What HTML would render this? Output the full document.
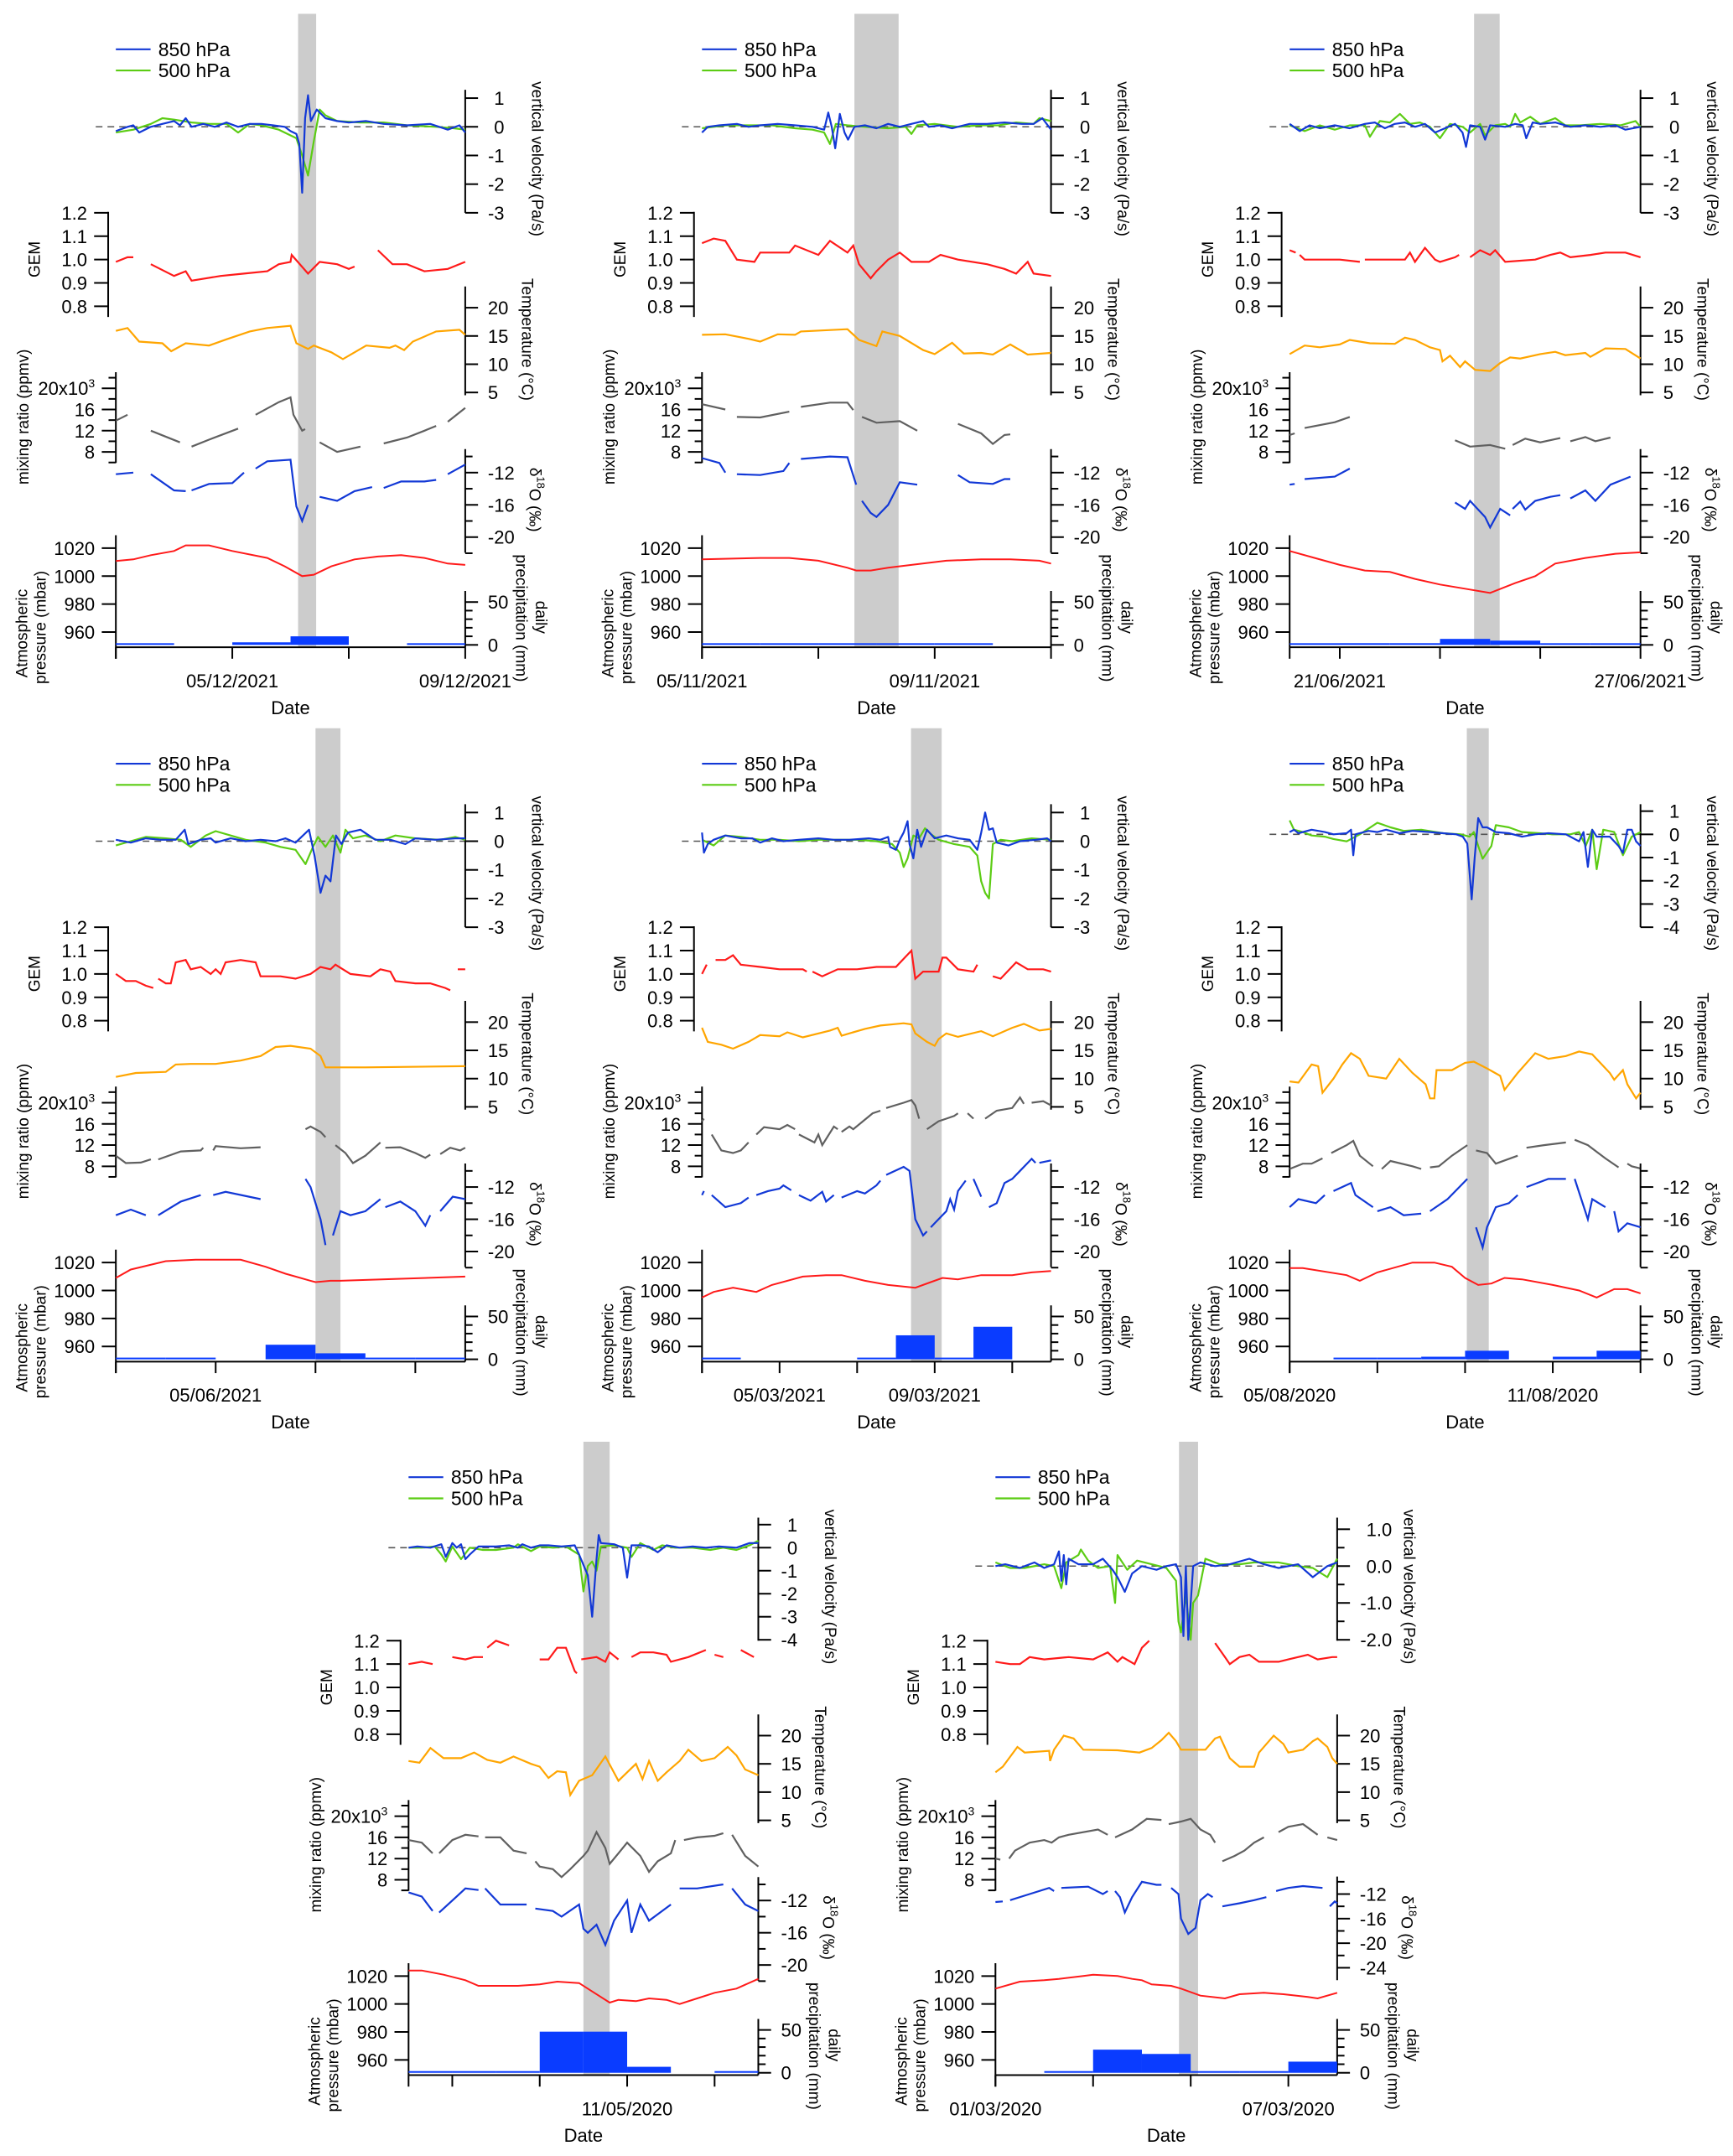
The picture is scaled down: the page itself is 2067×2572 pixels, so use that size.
<!DOCTYPE html>
<html><head><meta charset="utf-8"><title>Event panels</title>
<style>
html,body{margin:0;padding:0;background:#fff;}
svg{display:block;font-family:"Liberation Sans",Arial,sans-serif;}
</style></head>
<body>
<svg id="fig" xmlns="http://www.w3.org/2000/svg" width="2067" height="2572" viewBox="0 0 2067 2572"></svg>
<script>
// ---------- DATA (time in days from axis start, value) ----------
const p1_vv850=[[0,-0.15],[0.2,0],[0.3,0.05],[0.4,-0.2],[0.6,0],[0.8,0.1],[1.0,0.2],[1.1,0.05],[1.2,0.3],[1.3,0.0],[1.5,0.1],[1.7,0.0],[1.9,0.15],[2.1,0.0],[2.3,0.1],[2.5,0.1],[2.7,0.05],[2.9,0.0],[3.0,-0.15],[3.1,-0.25],[3.15,-0.6],[3.2,-2.3],[3.25,0.3],[3.3,1.1],[3.35,0.2],[3.45,0.6],[3.6,0.3],[3.8,0.2],[4.0,0.15],[4.3,0.2],[4.6,0.1],[5.0,0.05],[5.4,0.1],[5.7,-0.1],[5.9,0.05],[6.0,-0.2]];
const p1_vv500=[[0,-0.2],[0.3,-0.1],[0.6,0.1],[0.8,0.3],[1.0,0.25],[1.3,0.15],[1.6,0.1],[1.9,0.1],[2.1,-0.2],[2.3,0.1],[2.5,0.05],[2.8,-0.1],[3.0,-0.3],[3.1,-0.4],[3.2,-1.0],[3.3,-1.7],[3.4,-0.5],[3.5,0.6],[3.6,0.4],[3.8,0.2],[4.2,0.15],[4.6,0.15],[5.0,0.05],[5.5,0.0],[5.8,-0.05],[6.0,-0.1]];
const p1_gem=[[0,0.99],[0.2,1.01],[0.3,1.01],null,[0.6,0.98],[1.0,0.93],[1.2,0.95],[1.3,0.91],[1.8,0.93],[2.2,0.94],[2.6,0.95],[2.8,0.98],[3.0,0.99],[3.02,1.02],[3.3,0.94],[3.5,0.99],[3.8,0.98],[4.0,0.96],[4.1,0.97],null,[4.5,1.04],[4.75,0.98],[5.0,0.98],[5.3,0.95],[5.7,0.96],[6.0,0.99]];
const p1_temp=[[0,15.9],[0.2,16.4],[0.4,14],[0.8,13.7],[0.95,12.3],[1.2,13.7],[1.6,13.3],[1.9,14.4],[2.3,15.8],[2.6,16.4],[3.0,16.8],[3.1,13.7],[3.3,12.7],[3.4,13.3],[3.7,12.1],[3.9,10.9],[4.1,12.1],[4.3,13.3],[4.7,12.9],[4.8,13.3],[4.95,12.5],[5.1,14],[5.5,15.8],[5.9,16.1],[6.0,15.2]];
const p1_mix=[[0,13.9],[0.2,15],null,[0.6,12],[1.1,9.8],null,[1.3,9],[1.6,10.3],[2.1,12.4],null,[2.4,15],[2.8,17.4],[3.0,18.3],[3.05,15],[3.2,12],[3.25,12.3],null,[3.5,9.8],[3.8,8],[4.2,9],null,[4.6,9.6],[5.0,10.7],[5.3,12],[5.5,12.9],null,[5.7,13.7],[6.0,16.3]];
const p1_d18o=[[0,-12.2],[0.3,-12],null,[0.6,-12.2],[1.0,-14.2],[1.2,-14.3],null,[1.3,-14.2],[1.6,-13.4],[2.0,-13.3],[2.2,-12],null,[2.4,-11.5],[2.6,-10.6],[3.0,-10.4],[3.1,-16.2],[3.2,-18],[3.3,-16],null,[3.5,-15],[3.8,-15.5],[4.1,-14.3],[4.4,-13.8],null,[4.6,-13.9],[4.9,-13.1],[5.3,-13.1],[5.5,-12.9],null,[5.7,-12.2],[6.0,-11]];
const p1_press=[[0,1010.8],[0.3,1012],[0.6,1015],[1.0,1018],[1.2,1022],[1.6,1022],[2.0,1018],[2.6,1013],[2.9,1007],[3.2,1000],[3.4,1001],[3.7,1007],[4.1,1012],[4.5,1014],[4.9,1015],[5.3,1013],[5.7,1009],[6.0,1008]];
const p1_precip=[1,null,3,10,null,1];

const p2_vv850=[[0,-0.2],[0.1,0],[0.3,0.05],[0.6,0.1],[0.8,0],[1.0,0.05],[1.3,0.1],[1.6,0.05],[1.9,0.0],[2.1,-0.1],[2.17,0.5],[2.23,0],[2.29,-0.75],[2.37,0.45],[2.45,-0.2],[2.51,-0.45],[2.62,0],[2.8,0.05],[3.0,-0.05],[3.2,0.1],[3.4,0],[3.6,0.1],[3.8,0.2],[3.9,0],[4.1,0.05],[4.3,-0.05],[4.6,0.1],[4.9,0.1],[5.2,0.15],[5.5,0.1],[5.7,0.1],[5.85,0.3],[6.0,-0.1]];
const p2_vv500=[[0,-0.05],[0.4,0.05],[0.8,0.05],[1.2,0.05],[1.6,-0.05],[1.9,-0.1],[2.1,-0.2],[2.2,-0.6],[2.3,0.1],[2.5,0.05],[2.8,0],[3.2,-0.05],[3.5,0],[3.6,-0.25],[3.7,0.05],[4.0,0.1],[4.4,0.0],[4.8,0.05],[5.1,0.05],[5.4,0.15],[5.7,0.1],[5.8,0.3],[6,0.2]];
const p2_gem=[[0,1.07],[0.2,1.09],[0.4,1.08],[0.6,1.0],[0.9,0.99],[1.0,1.03],[1.5,1.03],[1.6,1.06],[2.0,1.02],[2.2,1.08],[2.5,1.03],[2.6,1.06],[2.7,0.98],[2.9,0.92],[3.0,0.95],[3.2,1.0],[3.4,1.03],[3.6,0.99],[3.9,0.99],[4.1,1.02],[4.4,1.0],[4.9,0.98],[5.2,0.96],[5.4,0.94],[5.6,0.99],[5.7,0.94],[6.0,0.93]];
const p2_temp=[[0,15.2],[0.4,15.3],[0.8,14.5],[1.0,14.0],[1.3,15.3],[1.6,15.2],[1.7,15.8],[2.5,16.2],[2.7,14.3],[3.0,13.2],[3.1,15.8],[3.4,15.0],[3.8,12.5],[4.0,11.8],[4.3,13.8],[4.5,11.9],[4.8,12.0],[5.0,11.7],[5.3,13.5],[5.6,11.7],[6.0,12.0]];
const p2_mix=[[0,17],[0.4,16],null,[0.6,14.6],[1.0,14.5],[1.5,15.6],null,[1.7,16.5],[2.2,17.3],[2.5,17.3],[2.6,15.9],null,[2.75,14.6],[3.0,13.5],[3.4,13.8],[3.7,12.0],null,[4.4,13.3],[4.8,11.5],[5.0,9.5],[5.2,11.2],[5.3,11.3]];
const p2_d18o=[[0,-10.2],[0.3,-10.8],[0.4,-12.0],null,[0.6,-12.2],[1.0,-12.3],[1.4,-11.8],[1.5,-10.8],null,[1.7,-10.3],[2.2,-10.0],[2.5,-10.1],[2.65,-13.5],null,[2.75,-15.5],[2.9,-17],[3.0,-17.5],[3.2,-16],[3.4,-13.2],[3.7,-13.5],null,[4.4,-12.3],[4.6,-13.2],[5.0,-13.4],[5.2,-12.8],[5.3,-12.8]];
const p2_press=[[0,1012],[1.0,1013],[1.5,1013],[2.0,1011],[2.5,1006],[2.65,1004],[2.9,1004],[3.2,1006],[3.6,1008],[4.2,1011],[4.8,1012],[5.3,1012],[5.8,1011],[6.0,1009]];
const p2_precip=[1,1,1,1,1,null];

const p3_vv850=[[0,0.1],[0.2,-0.15],[0.4,0.05],[0.6,-0.05],[0.9,0.05],[1.2,-0.05],[1.5,0.1],[1.7,0.15],[1.9,-0.05],[2.1,0.1],[2.3,0.15],[2.5,0],[2.7,0.1],[2.9,-0.2],[3.1,-0.05],[3.3,0.1],[3.45,-0.2],[3.52,-0.7],[3.6,0.05],[3.8,0],[3.9,-0.45],[4.0,0.05],[4.3,0],[4.5,0.1],[4.65,0.05],[4.72,-0.4],[4.85,0.15],[5.0,0.1],[5.3,0.15],[5.6,0],[5.9,0.05],[6.2,0],[6.5,0.05],[6.7,-0.1],[7,0]];
const p3_vv500=[[0,0.05],[0.3,-0.15],[0.6,0.05],[0.9,-0.1],[1.2,0.05],[1.5,0.05],[1.6,-0.35],[1.8,0.2],[2.0,0.15],[2.2,0.45],[2.4,0.1],[2.6,0.15],[2.8,0],[3.0,-0.4],[3.2,0.1],[3.45,0],[3.6,-0.2],[3.8,0.1],[3.9,-0.3],[4.1,0.05],[4.3,0.1],[4.4,0.0],[4.5,0.45],[4.6,0.15],[4.8,0.35],[5.0,0.1],[5.3,0.3],[5.5,0.05],[5.8,0.05],[6.2,0.1],[6.6,0.05],[6.9,0.2],[7,0]];
const p3_gem=[[0,1.04],[0.12,1.03],null,[0.2,1.02],[0.3,1.0],[1.0,1.0],[1.4,0.99],null,[1.5,1.0],[2.3,1.0],[2.4,1.03],[2.5,0.99],[2.7,1.05],[2.9,1.0],[3.0,0.99],[3.3,1.01],[3.38,1.02],null,[3.6,1.01],[3.8,1.04],[4.0,1.02],[4.1,1.04],[4.3,0.99],[4.9,1.0],[5.2,1.02],[5.4,1.03],[5.6,1.01],[6.0,1.02],[6.3,1.03],[6.7,1.03],[7,1.01]];
const p3_temp=[[0,11.8],[0.3,13.3],[0.6,13.0],[1.0,13.5],[1.2,14.3],[1.6,13.7],[2.1,13.6],[2.3,14.7],[2.5,14.3],[2.8,13.0],[3.0,12.5],[3.05,10.5],[3.2,11.5],[3.4,9.5],[3.5,10.5],[3.7,9.0],[4.0,8.8],[4.2,10.2],[4.4,11.2],[4.6,11.0],[5.0,11.8],[5.3,12.2],[5.5,11.6],[5.9,12.0],[6.0,11.3],[6.3,12.8],[6.7,12.7],[7,11.0]];
const p3_mix=[[0,11.2],[0.1,11.5],null,[0.3,12.5],[0.9,13.6],[1.2,14.6],null,[3.3,10.2],[3.6,9.0],[4.0,9.3],[4.3,8.6],null,[4.45,9.3],[4.7,10.5],[5.0,9.8],[5.4,10.6],null,[5.6,10.0],[5.9,10.8],[6.1,10.0],[6.4,10.7]];
const p3_d18o=[[0,-13.5],[0.1,-13.4],null,[0.3,-12.8],[0.9,-12.5],[1.2,-11.5],null,[3.3,-15.7],[3.5,-16.5],[3.6,-15.5],[3.9,-17.5],[4.0,-18.8],[4.2,-16.5],[4.4,-17.3],null,[4.45,-16.5],[4.6,-15.6],[4.7,-16.6],[4.9,-15.5],[5.2,-15],[5.4,-14.8],null,[5.6,-15.2],[5.9,-14.2],[6.1,-15.5],[6.4,-13.5],[6.8,-12.5]];
const p3_press=[[0,1018],[0.5,1013],[1.0,1008],[1.5,1004],[2.0,1003],[2.5,998],[3.0,994],[3.5,991],[4.0,988],[4.5,995],[4.9,1000],[5.3,1009],[5.9,1013],[6.5,1016],[7,1017]];
const p3_precip=[1,2,2,7,5,1,1];

const p4_vv850=[[0,0.05],[0.3,-0.05],[0.6,0.1],[0.9,0.05],[1.2,0.05],[1.38,0.4],[1.45,-0.1],[1.7,0.05],[1.9,0.1],[2.0,-0.05],[2.3,0.1],[2.6,0],[2.9,0.05],[3.2,0],[3.4,0.1],[3.6,-0.05],[3.87,0.4],[3.98,-0.5],[4.1,-1.8],[4.2,-1.2],[4.3,-1.4],[4.41,0.2],[4.52,-0.1],[4.65,0.3],[4.9,0.4],[5.2,0.05],[5.5,0.05],[5.8,-0.1],[6.0,0.1],[6.4,0.05],[6.8,0.1],[7,0.1]];
const p4_vv500=[[0,-0.15],[0.3,0],[0.6,0.15],[1.0,0.1],[1.3,0.05],[1.5,-0.2],[1.8,0.2],[2.0,0.35],[2.3,0.2],[2.6,0.05],[3.0,-0.05],[3.3,-0.2],[3.6,-0.3],[3.8,-0.8],[3.95,-0.2],[4.05,0.15],[4.2,-0.2],[4.35,0.2],[4.5,-0.4],[4.6,0.4],[4.75,0.1],[5.0,0.2],[5.3,0.0],[5.6,0.2],[6.0,0.1],[6.5,0.05],[6.8,0.15],[7,0.05]];
const p4_gem=[[0,1.0],[0.2,0.97],[0.4,0.97],[0.6,0.95],[0.75,0.94],null,[0.85,0.98],[1.0,0.96],[1.1,0.96],[1.2,1.05],[1.4,1.06],[1.5,1.02],[1.7,1.03],[1.9,1.0],[2.0,1.02],[2.1,1.0],[2.2,1.05],[2.5,1.06],[2.8,1.05],[2.9,0.99],[3.3,0.99],[3.6,0.98],[3.9,1.0],[4.1,1.03],[4.3,1.02],[4.4,1.04],[4.7,1.0],[5.1,0.99],[5.3,1.02],[5.5,1.01],[5.6,0.97],[6.0,0.96],[6.3,0.96],[6.6,0.94],[6.7,0.93],null,[6.85,1.02],[7,1.02]];
const p4_temp=[[0,10.3],[0.4,11.0],[1.0,11.2],[1.2,12.5],[1.5,12.6],[2.0,12.6],[2.5,13.2],[2.9,14.0],[3.2,15.6],[3.5,15.8],[3.9,15.3],[4.1,14.0],[4.2,12.0],[5.0,12.0],[7,12.2]];
const p4_mix=[[0,10.0],[0.2,8.6],[0.5,8.7],[0.7,9.3],null,[0.85,9.3],[1.3,10.8],[1.7,11.0],[1.75,11.5],null,[1.95,11.0],[2.0,11.8],[2.5,11.4],[2.9,11.6],null,[3.8,15.0],[3.9,15.5],[4.1,14.5],[4.2,13.5],null,[4.4,12.0],[4.6,10.5],[4.75,8.6],[5.0,10.0],[5.3,12.5],null,[5.4,11.5],[5.7,11.6],[6.0,10.5],[6.2,9.6],[6.3,10.2],null,[6.5,10.3],[6.7,11.5],[6.9,11.0],[7,11.5]];
const p4_d18o=[[0,-15.5],[0.3,-14.8],[0.6,-15.5],null,[0.85,-15.5],[1.3,-13.8],[1.7,-13.0],null,[1.95,-13.0],[2.2,-12.6],[2.9,-13.5],null,[3.8,-11],[3.9,-12],[4.1,-16],[4.2,-19.2],null,[4.35,-18],[4.5,-15],[4.7,-15.5],[5.0,-15],[5.3,-13.5],null,[5.4,-14.5],[5.7,-13.8],[6.0,-15],[6.2,-16.8],[6.3,-15.5],null,[6.5,-15],[6.75,-13.2],[7,-13.5]];
const p4_press=[[0,1009],[0.3,1015],[1.0,1021],[1.6,1022],[2.2,1022],[2.5,1022],[3.0,1017],[3.4,1012],[3.9,1007],[4.0,1006],[4.3,1007],[4.5,1007],[7,1010]];
const p4_precip=[1.5,1,null,17,7,1,1];

const p5_vv850=[[0,0.3],[0.05,-0.4],[0.15,-0.1],[0.3,0.05],[0.6,0.2],[1.0,0.1],[1.3,0.1],[1.5,-0.05],[1.8,0.1],[2.1,0],[2.5,0.05],[3.0,0.1],[3.4,0.05],[3.8,0.05],[4.3,0.1],[4.6,0.05],[4.8,0.15],[4.85,-0.2],[5.0,-0.3],[5.1,0.05],[5.2,0.3],[5.3,0.7],[5.35,-0.1],[5.45,-0.6],[5.55,0.4],[5.65,-0.2],[5.8,0.4],[6.0,0.1],[6.3,0.2],[6.6,0.1],[6.9,0.05],[7.1,-0.3],[7.2,0.3],[7.3,1.0],[7.4,0.4],[7.5,0.45],[7.6,-0.05],[7.9,-0.15],[8.2,0],[8.6,0.05],[8.9,0.1],[9,0]];
const p5_vv500=[[0,0.05],[0.3,-0.15],[0.6,0.2],[1.0,0.15],[1.5,0.05],[2.0,0.05],[2.5,0],[3.0,0.05],[3.5,0.05],[4.0,0.05],[4.5,0.0],[4.9,-0.1],[5.1,-0.4],[5.2,-0.9],[5.3,-0.6],[5.45,0.2],[5.6,0.1],[5.75,0.45],[5.9,0.25],[6.1,0.05],[6.5,-0.1],[6.9,-0.2],[7.1,-0.5],[7.2,-1.4],[7.3,-1.8],[7.4,-2.0],[7.5,-0.1],[7.7,0.05],[8.0,0.0],[8.5,0.1],[9,0.05]];
const p5_gem=[[0,1.0],[0.12,1.04],null,[0.35,1.06],[0.6,1.06],[0.8,1.08],[1.0,1.04],[1.5,1.03],[2.0,1.02],[2.6,1.02],[2.7,1.01],null,[2.85,1.01],[3.1,0.99],[3.5,1.02],[4.0,1.02],[4.5,1.03],[5.0,1.03],[5.4,1.1],[5.5,0.98],[5.7,1.01],[6.1,1.01],[6.2,1.07],[6.3,1.07],[6.6,1.02],[7.0,1.01],[7.1,1.04],null,[7.5,0.99],[7.7,0.98],[8.1,1.05],[8.4,1.02],[8.8,1.02],[9,1.01]];
const p5_temp=[[0,19.0],[0.15,16.5],[0.5,16.0],[0.8,15.3],[1.2,16.5],[1.5,17.7],[2.0,17.5],[2.2,18.2],[2.6,17.3],[3.3,18.5],[3.5,19.0],[3.6,17.6],[4.2,18.8],[4.6,19.4],[5.2,19.8],[5.4,19.6],[5.5,18.0],[5.8,16.5],[6.0,15.8],[6.1,17.0],[6.3,18.0],[6.6,17.4],[7.2,18.4],[7.5,17.5],[8.0,19.0],[8.3,19.7],[8.7,18.5],[9,18.8]];
const p5_mix=[[0,16.5],[0.05,17],null,[0.25,14.0],[0.5,11.0],[0.8,10.5],[1.0,11.0],[1.2,12.5],null,[1.4,14.0],[1.6,15.4],[2.0,15.0],[2.2,15.8],[2.4,15.0],null,[2.5,14.0],[2.9,12.5],[3.0,14.0],[3.1,12.0],[3.4,15.5],[3.5,15.0],null,[3.6,14.5],[3.8,15.5],[3.9,15.0],[4.4,18.0],[4.6,18.5],null,[4.75,19.0],[5.2,20.0],[5.4,20.5],[5.5,19.5],[5.6,17.0],null,[5.8,15.0],[6.1,16.5],[6.3,17.0],[6.5,17.5],[6.6,18.0],null,[6.85,18.0],[7.0,17.0],null,[7.3,17.0],[7.6,18.5],[8.0,19.0],[8.2,21.0],[8.3,19.8],null,[8.5,20.0],[8.8,20.3],[9,19.5]];
const p5_d18o=[[0,-13],[0.05,-12.5],null,[0.25,-13],[0.6,-14.5],[1.0,-14.0],[1.2,-13.3],null,[1.4,-13],[1.7,-12.5],[2.0,-12.2],[2.1,-11.8],[2.3,-12.4],null,[2.5,-13],[2.8,-13.7],[3.1,-12.6],[3.2,-13.8],[3.4,-13.0],null,[3.6,-13.3],[4.0,-12.5],[4.2,-12.8],[4.5,-11.8],[4.6,-11.2],null,[4.75,-10.5],[5.2,-9.5],[5.35,-10.0],[5.5,-16],[5.7,-18],[5.8,-17.5],null,[5.9,-17],[6.0,-16.5],[6.3,-15],[6.4,-13.5],[6.5,-14.8],[6.6,-12.5],[6.8,-11.2],null,[7.0,-11],[7.2,-13.2],null,[7.4,-14.5],[7.6,-14],[7.8,-11.5],[8.0,-11],[8.2,-10],[8.5,-8.5],[8.6,-9],null,[8.7,-9],[9,-8.7]];
const p5_press=[[0,995],[0.3,999],[0.8,1002],[1.4,999],[1.8,1004],[2.6,1010],[3.2,1011],[3.6,1011],[4.2,1007],[4.8,1004],[5.5,1002],[5.9,1006],[6.2,1009],[6.6,1008],[7.2,1011],[8.0,1011],[8.5,1013],[9,1014]];
const p5_precip=[1,null,null,null,1,28,1,38,null];

const p6_vv850=[[0,0.1],[0.1,0.2],[0.2,0.05],[0.5,0.2],[0.8,0.1],[1.0,0.0],[1.3,0.05],[1.4,0.2],[1.45,-0.9],[1.5,0],[1.8,0.15],[2.0,0.1],[2.2,0.2],[2.5,0.05],[2.8,0.15],[3.2,0.1],[3.5,0.05],[3.8,0.0],[3.95,-0.1],[4.05,-0.4],[4.15,-2.8],[4.22,-1.0],[4.3,0.7],[4.4,0.3],[4.5,0.3],[4.7,0.1],[5.0,0.05],[5.3,-0.1],[5.6,0.0],[5.9,0.05],[6.3,0.0],[6.6,-0.3],[6.7,0.1],[6.8,-1.4],[6.9,0.2],[7.0,-0.1],[7.3,-0.1],[7.5,-0.5],[7.6,-0.8],[7.7,0.2],[7.8,0.2],[7.9,-0.3],[8,-0.5]];
const p6_vv500=[[0,0.6],[0.1,0.2],[0.3,0.1],[0.5,-0.05],[0.8,-0.1],[1.0,-0.2],[1.3,-0.3],[1.6,0.0],[2.0,0.5],[2.3,0.3],[2.6,0.15],[3.0,0.2],[3.5,0.05],[3.9,0.0],[4.1,-0.1],[4.2,0.1],[4.3,-0.5],[4.4,-1.05],[4.6,-0.5],[4.7,0.4],[5.0,0.3],[5.3,0.1],[5.7,0.05],[6.0,0.0],[6.4,0.0],[6.6,0.1],[6.75,-0.5],[6.9,0.2],[7.0,-1.5],[7.15,0.2],[7.4,0.1],[7.6,-0.9],[7.8,-0.1],[8,0.1]];
const p6_gem=[];
const p6_temp=[[0,9.5],[0.2,9.3],[0.5,12.5],[0.65,12.2],[0.75,7.5],[1.0,10.0],[1.2,12.5],[1.4,14.5],[1.6,13.5],[1.8,10.5],[2.2,10.0],[2.5,13.5],[2.8,11.0],[3.1,9.0],[3.2,6.5],[3.3,6.5],[3.35,11.5],[3.7,11.5],[4.0,12.8],[4.2,13.0],[4.5,11.8],[4.8,10.5],[4.9,8.0],[5.2,11.0],[5.6,14.5],[5.9,13.5],[6.3,14.0],[6.6,14.8],[6.9,14.3],[7.3,11.0],[7.4,9.8],[7.6,11.5],[7.7,9.0],[7.9,6.5],[8,7.5]];
const p6_mix=[[0,7.5],[0.3,8.5],[0.5,8.5],[0.75,9.5],null,[0.95,10.5],[1.3,12.0],[1.45,12.8],[1.6,10.0],[1.9,8.0],null,[2.1,7.5],[2.3,9.0],[2.8,8.0],[3.0,7.5],null,[3.2,7.8],[3.4,8.0],[3.7,10.0],[4.05,12.0],null,[4.25,11.0],[4.5,10.5],[4.7,8.5],[5.2,10.0],null,[5.4,11.5],[5.8,12.0],[6.3,12.5],null,[6.5,13.0],[6.8,12.0],[7.2,9.5],[7.5,7.8],null,[7.7,8.5],[7.8,8.0],[8,7.6]];
const p6_d18o=[[0,-14.5],[0.2,-13.5],[0.6,-14.0],[0.8,-13],null,[1.0,-12.5],[1.4,-11.5],[1.5,-13],[1.9,-14.5],null,[2.0,-15],[2.3,-14.5],[2.6,-15.5],[3.0,-15.3],null,[3.2,-15],[3.6,-13.5],[4.05,-11],null,[4.25,-17],[4.4,-19.5],[4.5,-17],[4.7,-14.5],[5.0,-14],[5.2,-13],null,[5.4,-12],[5.9,-11],[6.3,-11],null,[6.5,-11],[6.8,-16],[6.9,-13.5],[7.2,-14.5],null,[7.4,-15],[7.5,-17.5],[7.7,-16.5],[8,-17]];
const p6_press=[[0,1016],[0.3,1016],[1.3,1011],[1.6,1007],[2.0,1013],[2.8,1020],[3.3,1020],[3.7,1017],[4.0,1009],[4.3,1004],[4.6,1005],[4.9,1009],[5.3,1008],[6.0,1004],[6.6,1000],[7.0,995],[7.4,1001],[7.7,1001],[8,998]];
const p6_precip=[null,1,1,3,10,null,3,10];

const p7_vv850=[[0,0],[0.2,0.05],[0.5,0],[0.75,0.15],[0.85,-0.4],[1.0,0.2],[1.1,0],[1.2,0.15],[1.3,-0.5],[1.4,-0.3],[1.6,0.05],[2.0,0.05],[2.3,0.1],[2.5,0.0],[2.6,0.15],[2.8,0.0],[3.0,0.1],[3.2,0.1],[3.5,0.05],[3.8,0.1],[3.9,-0.3],[4.1,-1.2],[4.2,-3.0],[4.3,-0.5],[4.35,0.55],[4.4,0.2],[4.7,0.15],[4.9,0.0],[5.0,-1.3],[5.1,0.1],[5.3,0.1],[5.5,0.05],[5.7,-0.2],[5.9,0.1],[6.2,0.0],[6.5,0.05],[6.8,0.0],[7.1,0.05],[7.5,0.0],[7.8,0.2],[8,0.2]];
const p7_vv500=[[0,0],[0.3,0],[0.6,0.05],[0.75,-0.3],[0.85,-0.6],[1.0,0.05],[1.2,-0.5],[1.4,0],[1.7,-0.1],[2.0,-0.1],[2.4,0],[2.5,0.15],[2.8,-0.15],[3.0,0.05],[3.3,0.0],[3.6,0.05],[3.9,-0.3],[4.0,-1.9],[4.1,-0.8],[4.2,-0.6],[4.3,-1.0],[4.4,0.05],[4.7,0.1],[5.0,0.0],[5.1,-0.4],[5.3,0.2],[5.6,-0.1],[5.8,0.1],[6.1,0.0],[6.5,0.0],[6.9,-0.1],[7.2,0.0],[7.5,-0.1],[7.8,0.1],[8,0.3]];
const p7_gem=[[0,1.1],[0.3,1.11],[0.55,1.1],null,[1.0,1.13],[1.3,1.12],[1.5,1.13],[1.7,1.13],null,[1.8,1.17],[2.0,1.2],[2.3,1.18],null,[3.0,1.12],[3.2,1.12],[3.4,1.17],[3.6,1.17],[3.8,1.07],[3.85,1.06],null,[3.95,1.12],[4.3,1.13],[4.5,1.11],[4.6,1.15],[4.8,1.12],null,[5.1,1.13],[5.3,1.15],[5.6,1.15],[5.9,1.14],[6.0,1.11],[6.4,1.13],[6.8,1.16],null,[7.0,1.14],[7.2,1.13],null,[7.6,1.16],[7.9,1.13]];
const p7_temp=[[0,15.5],[0.25,15.2],[0.5,17.8],[0.8,16],[1.2,16],[1.5,17],[1.8,15.7],[2.1,15.2],[2.4,16.3],[2.8,15.0],[3.0,14.5],[3.2,12.5],[3.4,13.7],[3.6,13.5],[3.7,9.5],[3.9,12.0],[4.2,13.0],[4.5,16.3],[4.8,12.0],[5.0,13.5],[5.2,15.0],[5.35,12.3],[5.5,15.5],[5.7,12.0],[5.9,13.5],[6.2,15.5],[6.4,17.5],[6.7,15.5],[7.0,16.0],[7.3,18.0],[7.5,16.5],[7.7,14.0],[8,13.0]];
const p7_mix=[[0,15.5],[0.3,15],[0.55,13],null,[0.7,13],[1.0,15.5],[1.3,16.5],[1.6,16.2],null,[1.75,16],[2.1,16],[2.4,13.5],[2.7,13.0],null,[2.9,11.5],[3.0,10.5],[3.3,10.0],[3.5,8.5],[3.7,10.0],[4.0,12.5],[4.1,13.5],[4.3,17.0],[4.5,14.0],[4.6,11.0],[4.8,13.0],[5.0,15.0],[5.3,12.5],[5.5,9.5],[5.7,11.5],[6.0,13.0],[6.1,15.5],null,[6.3,15.5],[6.6,16],[7.0,16.3],[7.2,16.8],null,[7.4,16.5],[7.7,12.5],[8,10.5]];
const p7_d18o=[[0,-11.0],[0.3,-11.5],[0.55,-13.3],null,[0.7,-13.5],[1.1,-11.5],[1.3,-10.5],[1.6,-10.7],null,[1.75,-10.5],[2.1,-12.5],[2.7,-12.5],null,[2.9,-13],[3.3,-13.3],[3.5,-14],[3.9,-12.5],[4.0,-15.5],[4.1,-16],[4.3,-15],[4.5,-17.5],[4.7,-14.5],[5.0,-12],[5.1,-16],[5.3,-12.5],[5.5,-14.5],[6.0,-12.5],null,[6.2,-10.5],[6.6,-10.5],[7.2,-10],null,[7.4,-10.5],[7.7,-12.5],[8,-13.3]];
const p7_press=[[0,1024],[0.3,1024],[0.8,1021],[1.3,1017],[1.6,1013],[2.5,1013],[3.0,1014],[3.4,1016],[3.9,1015],[4.2,1009],[4.6,1001],[4.8,1003],[5.2,1002],[5.5,1004],[5.9,1003],[6.2,1000],[6.6,1004],[7.0,1008],[7.5,1011],[8,1018]];
const p7_precip=[1,1.5,1,48,48,7,null,1];

const p8_vv850=[[0,0],[0.2,0.05],[0.5,-0.05],[0.8,0.1],[1.0,-0.05],[1.2,0.05],[1.3,0.4],[1.35,-0.4],[1.4,0.3],[1.45,-0.5],[1.5,0.2],[1.7,0.05],[2.0,0.05],[2.2,0.2],[2.4,-0.1],[2.5,-0.3],[2.65,-0.7],[2.8,-0.2],[3.0,0.0],[3.3,-0.1],[3.5,0.0],[3.7,0.05],[3.8,-0.3],[3.85,-1.9],[3.9,0],[3.95,-2.0],[4.05,0],[4.2,0.1],[4.5,0.0],[4.8,0.05],[5.2,0.2],[5.5,0.05],[5.8,-0.05],[6.2,0.05],[6.5,-0.3],[6.8,0.0],[7,0.1]];
const p8_vv500=[[0,0.1],[0.3,-0.05],[0.6,-0.05],[1.0,0.05],[1.2,0],[1.35,-0.6],[1.45,0.1],[1.7,0.3],[1.75,0.45],[1.9,0.15],[2.1,-0.05],[2.35,0.0],[2.4,-0.5],[2.45,-1.0],[2.5,0.3],[2.7,-0.1],[2.9,0.15],[3.2,0.05],[3.5,-0.05],[3.7,-0.4],[3.75,-1.5],[3.8,-1.8],[3.9,-0.8],[4.0,-2.0],[4.05,-1.0],[4.15,-0.8],[4.3,0.2],[4.6,0.05],[5.0,0.05],[5.3,0.1],[5.8,0.1],[6.2,0.0],[6.5,-0.05],[6.8,-0.3],[7,0.2]];
const p8_gem=[[0,1.11],[0.3,1.10],[0.5,1.1],[0.7,1.13],[1.0,1.12],[1.5,1.13],[2.0,1.12],[2.3,1.15],[2.5,1.11],[2.6,1.13],[2.85,1.10],[3.0,1.17],[3.15,1.2],null,[4.5,1.19],[4.7,1.13],[4.8,1.1],[5.0,1.13],[5.2,1.14],[5.4,1.11],[5.8,1.11],[6.0,1.12],[6.4,1.14],[6.6,1.12],[6.9,1.13],[7,1.13]];
const p8_temp=[[0,13.5],[0.15,14.5],[0.45,18.0],[0.6,17.0],[1.1,17.3],[1.12,15.5],[1.2,17.5],[1.4,20.0],[1.6,19.5],[1.8,17.5],[2.5,17.4],[2.95,17.0],[3.2,17.8],[3.4,19.2],[3.55,20.5],[3.7,19.0],[3.8,17.5],[4.3,17.5],[4.5,19.5],[4.6,19.8],[4.8,16.0],[5.0,14.5],[5.3,14.5],[5.4,17.0],[5.6,19.0],[5.7,20.0],[5.9,18.5],[6.0,17.0],[6.3,17.5],[6.5,19.0],[6.6,19.5],[6.8,18.0],[6.9,16.0],[7,15.0]];
const p8_mix=[[0,12],[0.1,11.8],null,[0.28,12.0],[0.4,13.5],[0.7,15.0],[1.0,15.5],[1.15,15],[1.3,16.0],[1.5,16.5],[2.1,17.5],[2.3,16.5],null,[2.45,16],[2.8,17.5],[3.1,19.5],[3.4,19.3],null,[3.55,18.5],[3.8,19.0],[4.0,19.5],[4.2,17.5],[4.4,16.5],[4.5,15.0],null,[4.65,11.5],[4.9,12.5],[5.1,13.5],[5.3,15.0],[5.5,16.0],null,[5.8,17.0],[6.0,18.0],[6.3,18.5],[6.6,16.5],null,[6.8,16],[7,15.5]];
const p8_d18o=[[0,-13.3],[0.15,-13.2],null,[0.3,-13.0],[0.7,-12.0],[1.1,-11.0],[1.2,-11.5],null,[1.35,-11],[1.9,-10.8],[2.2,-12],[2.3,-11.5],null,[2.45,-11.5],[2.55,-12.5],[2.65,-15.0],[2.8,-12.5],[3.0,-10],[3.3,-10.5],[3.4,-10.5],null,[3.6,-11],[3.75,-12],[3.8,-16],[3.95,-18.5],[4.1,-17.5],[4.2,-13],[4.35,-12],[4.45,-12.5],null,[4.65,-14],[5.0,-13.5],[5.3,-13],[5.55,-12.5],null,[5.75,-11.5],[6.0,-11],[6.3,-10.7],[6.7,-11],null,[6.85,-14],[6.95,-13.2],[7,-13.5]];
const p8_press=[[0,1011],[0.5,1016],[1.0,1017],[1.3,1018],[1.8,1020],[2.0,1021],[2.5,1020],[2.8,1018],[3.0,1017],[3.2,1014],[3.6,1013],[3.8,1011],[4.2,1006],[4.7,1004],[5.0,1007],[5.5,1008],[5.9,1007],[6.4,1005],[6.6,1004],[7,1008]];
const p8_precip=[null,1,27,22,1,1,13];

const seriesData=[
 {vv850:p1_vv850,vv500:p1_vv500,gem:p1_gem,temp:p1_temp,mix:p1_mix,d18o:p1_d18o,press:p1_press,precip:p1_precip},
 {vv850:p2_vv850,vv500:p2_vv500,gem:p2_gem,temp:p2_temp,mix:p2_mix,d18o:p2_d18o,press:p2_press,precip:p2_precip},
 {vv850:p3_vv850,vv500:p3_vv500,gem:p3_gem,temp:p3_temp,mix:p3_mix,d18o:p3_d18o,press:p3_press,precip:p3_precip},
 {vv850:p4_vv850,vv500:p4_vv500,gem:p4_gem,temp:p4_temp,mix:p4_mix,d18o:p4_d18o,press:p4_press,precip:p4_precip},
 {vv850:p5_vv850,vv500:p5_vv500,gem:p5_gem,temp:p5_temp,mix:p5_mix,d18o:p5_d18o,press:p5_press,precip:p5_precip},
 {vv850:p6_vv850,vv500:p6_vv500,gem:p6_gem,temp:p6_temp,mix:p6_mix,d18o:p6_d18o,press:p6_press,precip:p6_precip},
 {vv850:p7_vv850,vv500:p7_vv500,gem:p7_gem,temp:p7_temp,mix:p7_mix,d18o:p7_d18o,press:p7_press,precip:p7_precip},
 {vv850:p8_vv850,vv500:p8_vv500,gem:p8_gem,temp:p8_temp,mix:p8_mix,d18o:p8_d18o,press:p8_press,precip:p8_precip}
];
const xDays=[6,6,7,7,9,8,8,7];
const eventBands=[[3.13,3.44],[2.62,3.38],[3.68,4.19],[4.0,4.5],[5.39,6.18],[4.04,4.54],[4.0,4.6],[3.76,4.15]];
const xTickDays=[[0,2,4,6],[0,2,4,6],[1,3,5,7],[0,2,4,6],[0,2,4,6,8],[0,2,4,6,8],[1,3,5,7],[0,2,4,6]];
const xTickLabels=[[[2,'05/12/2021'],[6,'09/12/2021']],[[0,'05/11/2021'],[4,'09/11/2021']],[[1,'21/06/2021'],[7,'27/06/2021']],[[2,'05/06/2021']],[[2,'05/03/2021'],[6,'09/03/2021']],[[0,'05/08/2020'],[6,'11/08/2020']],[[5,'11/05/2020']],[[0,'01/03/2020'],[6,'07/03/2020']]];

// ---------- LAYOUT (zoom-space coordinates) ----------
const SX=680/1560, SY=860/1565;
const layout=[
 {cx:0,cy:0,sh:0,gx:296,x0:317,x1:1273,vv:'std',d:'std'},
 {cx:700,cy:0,sh:0,gx:293,x0:315,x1:1270,vv:'std',d:'std'},
 {cx:1390,cy:0,sh:0,gx:318,x0:340,x1:1300,vv:'std',d:'std'},
 {cx:0,cy:855,sh:-5,gx:296,x0:317,x1:1273,vv:'std',d:'std'},
 {cx:700,cy:855,sh:-5,gx:293,x0:315,x1:1270,vv:'std',d:'std'},
 {cx:1390,cy:855,sh:-5,gx:318,x0:340,x1:1300,vv:'p6',d:'std'},
 {cx:350,cy:1710,sh:-12,gx:293,x0:315,x1:1272,vv:'p7',d:'std'},
 {cx:1050,cy:1710,sh:-12,gx:293,x0:315,x1:1250,vv:'p8',d:'p8'}
];
const vvAxes={
 std:{raw:false,v1:1,y1:213,v2:-3,y2:462,top:195,bot:462,major:[1,0,-1,-2,-3],minor:[],fmt:v=>String(v),lab:'std'},
 p6:{raw:true,v1:1,y1:205,v2:-4,y2:457,top:190,bot:457,major:[1,0,-1,-2,-3,-4],minor:[],fmt:v=>String(v),lab:'std'},
 p7:{raw:true,v1:1,y1:198,v2:-4,y2:448,top:183,bot:450,major:[1,0,-1,-2,-3,-4],minor:[],fmt:v=>String(v),lab:'std'},
 p8:{raw:true,v1:1,y1:208,v2:-2,y2:448,top:183,bot:450,major:[1,0,-1,-2],minor:[0.5,-0.5,-1.5],fmt:v=>v.toFixed(1),lab:'wide'}
};
const dAxes={
 std:{raw:false,v1:-12,y1:1026,v2:-20,y2:1166,top:975,bot:1200,major:[-12,-16,-20],minor:[-10,-14,-18,-22]},
 p8:{raw:true,v1:-12,y1:1000,v2:-24,y2:1160,top:962,bot:1187,major:[-12,-16,-20,-24],minor:[-10,-14,-18,-22]}
};

const NS='http://www.w3.org/2000/svg';
const svg=document.getElementById('fig');
function add(parent,tag,name,attrs,text){
  const el=document.createElementNS(NS,tag);
  for(const k in attrs) el.setAttribute(k,attrs[k]);
  
  
  if(text!==undefined) el.textContent=text;
  parent.appendChild(el);
  return el;
}
const FS=22, TFS=19;

layout.forEach((L,pi)=>{
  const D=seriesData[pi];
  const g=add(svg,'g','panel-'+(pi+1),{});
  const X=zx=>L.cx+zx*SX;
  const Y=zy=>L.cy+(zy+L.sh)*SY;
  const Yraw=zy=>L.cy+zy*SY;
  const days=xDays[pi];
  const xs=t=>X(L.x0+(L.x1-L.x0)*t/days);
  const lin=(v1,y1,v2,y2,raw)=>v=>(raw?Yraw:Y)(y1+(v-v1)*(y2-y1)/(v2-v1));
  const vvA=vvAxes[L.vv], dA=dAxes[L.d];
  const yVV=lin(vvA.v1,vvA.y1,vvA.v2,vvA.y2,vvA.raw);
  const yG=lin(1.2,462,0.8,665,false);
  const yT=lin(20,668,5,852,false);
  const yM=lin(20,843,8,981,false);
  const yD=lin(dA.v1,dA.y1,dA.v2,dA.y2,dA.raw);
  const yP=lin(1020,1190,960,1372,false);
  const yR=lin(50,1307,0,1400,false);
  const axisY=Y(1405);
  const XL=X(L.x0), XR=X(L.x1);
  const TK=35*SX, TKm=20*SX;

  const b=eventBands[pi];
  add(g,'rect','event-band',{x:xs(b[0]),y:Y(30),width:xs(b[1])-xs(b[0]),height:axisY-Y(30),fill:'#cccccc'});

  add(g,'line','legend-line-850',{x1:XL,x2:X(L.x0+95),y1:Y(107),y2:Y(107),stroke:'#1238d6','stroke-width':2.2});
  add(g,'text','legend-label-850',{x:X(L.x0+116),y:Y(107)+8,'font-size':23},'850 hPa');
  add(g,'line','legend-line-500',{x1:XL,x2:X(L.x0+95),y1:Y(153),y2:Y(153),stroke:'#5ccc14','stroke-width':2.2});
  add(g,'text','legend-label-500',{x:X(L.x0+116),y:Y(153)+8,'font-size':23},'500 hPa');

  function pathFor(arr,yf){
    let d='',pen=false;
    arr.forEach(p=>{ if(p===null){pen=false;return;} d+=(pen?'L':'M')+xs(p[0]).toFixed(1)+','+yf(p[1]).toFixed(1); pen=true;});
    return d;
  }
  function rightAxis(name,top,bot,majors,minors,yf,fmt,anchor,lx){
    add(g,'line',name+'-line',{x1:XR,x2:XR,y1:top,y2:bot,stroke:'#000','stroke-width':2});
    majors.forEach(v=>{
      add(g,'line',name+'-tick',{x1:XR,x2:XR+TK,y1:yf(v),y2:yf(v),stroke:'#000','stroke-width':2});
      add(g,'text',name+'-tick-label',{x:lx,y:yf(v)+8,'font-size':FS,'text-anchor':anchor},fmt(v));
    });
    minors.forEach(v=>add(g,'line',name+'-minor-tick',{x1:XR,x2:XR+TKm,y1:yf(v),y2:yf(v),stroke:'#000','stroke-width':2}));
  }
  function leftAxis(name,ax,top,bot,majors,minors,yf,fmt){
    const x=X(ax);
    add(g,'line',name+'-line',{x1:x,x2:x,y1:top,y2:bot,stroke:'#000','stroke-width':2});
    majors.forEach(v=>{
      add(g,'line',name+'-tick',{x1:x-TK*1.1,x2:x,y1:yf(v),y2:yf(v),stroke:'#000','stroke-width':2});
      add(g,'text',name+'-tick-label',{x:x-25,y:yf(v)+8,'font-size':FS,'text-anchor':'end'},fmt(v));
    });
    minors.forEach(v=>add(g,'line',name+'-minor-tick',{x1:x-TKm,x2:x,y1:yf(v),y2:yf(v),stroke:'#000','stroke-width':2}));
  }
  function vtitle(name,zx,zy,rot,text){
    const x=X(zx),y=Y(zy);
    return add(g,'text',name,{x:x,y:y,'font-size':TFS,'text-anchor':'middle','dominant-baseline':'central',transform:'rotate('+rot+' '+x+' '+y+')'},text);
  }

  const vTop=vvA.raw?Yraw(vvA.top):Y(vvA.top), vBot=vvA.raw?Yraw(vvA.bot):Y(vvA.bot);
  add(g,'line','zero-line',{x1:X(L.x0-55),x2:XR,y1:yVV(0),y2:yVV(0),stroke:'#555','stroke-width':1.6,'stroke-dasharray':'8,6'});
  rightAxis('vv-axis',vTop,vBot,vvA.major,vvA.minor,yVV,vvA.fmt,'end',vvA.lab==='wide'?X(L.x1+150):X(L.x1+107));
  add(g,'path','vv-500-line',{d:pathFor(D.vv500,yVV),fill:'none',stroke:'#5ccc14','stroke-width':2.2,'stroke-linejoin':'round'});
  add(g,'path','vv-850-line',{d:pathFor(D.vv850,yVV),fill:'none',stroke:'#1238d6','stroke-width':2.2,'stroke-linejoin':'round'});
  vtitle('vv-axis-title',L.x1+195,345,90,'vertical velocity (Pa/s)');

  leftAxis('gem-axis',L.gx,Y(460),Y(688),[1.2,1.1,1.0,0.9,0.8],[],yG,v=>v.toFixed(1));
  add(g,'path','gem-line',{d:pathFor(D.gem,yG),fill:'none',stroke:'#ff1a1a','stroke-width':2.2});
  vtitle('gem-axis-title',L.gx-200,563,-90,'GEM');

  rightAxis('temp-axis',Y(622),Y(858),[20,15,10,5],[],yT,v=>String(v),'start',X(L.x1+62));
  add(g,'path','temperature-line',{d:pathFor(D.temp,yT),fill:'none',stroke:'#ffa500','stroke-width':2.2});
  vtitle('temp-axis-title',L.x1+168,737,90,'Temperature (°C)');

  leftAxis('mix-axis',L.x0,Y(808),Y(1005),[16,12,8],[22,18,14,10,6],yM,v=>String(v));
  add(g,'line','mix-tick-20',{x1:XL-TK*1.1,x2:XL,y1:yM(20),y2:yM(20),stroke:'#000','stroke-width':2});
  const t20=add(g,'text','mix-tick-label-20',{x:XL-25,y:yM(20)+8,'font-size':FS,'text-anchor':'end'});
  t20.appendChild(document.createTextNode('20x10'));
  add(t20,'tspan','mix-exponent',{dy:-9,'font-size':14},'3');
  add(g,'path','mixing-ratio-line',{d:pathFor(D.mix,yM),fill:'none',stroke:'#606060','stroke-width':2.2});
  vtitle('mix-axis-title',L.x0-252,905,-90,'mixing ratio (ppmv)');

  const dTop=dA.raw?Yraw(dA.top):Y(dA.top), dBot=dA.raw?Yraw(dA.bot):Y(dA.bot);
  rightAxis('d18o-axis',dTop,dBot,dA.major,dA.minor,yD,v=>String(v),'start',X(L.x1+62));
  add(g,'path','d18o-line',{d:pathFor(D.d18o,yD),fill:'none',stroke:'#1238d6','stroke-width':2.2});
  const dt=vtitle('d18o-axis-title',L.x1+190,1085,90,'');
  dt.appendChild(document.createTextNode('δ'));
  add(dt,'tspan','d18o-superscript',{dy:-8,'font-size':13},'18');
  add(dt,'tspan','d18o-rest',{dy:8},'O (‰)');

  leftAxis('pressure-axis',L.x0,Y(1162),axisY,[1020,1000,980,960],[],yP,v=>String(v));
  add(g,'path','pressure-line',{d:pathFor(D.press,yP),fill:'none',stroke:'#ff1a1a','stroke-width':2});
  vtitle('pressure-axis-title-1',L.x0-255,1375,-90,'Atmospheric');
  vtitle('pressure-axis-title-2',L.x0-205,1362,-90,'pressure (mbar)');

  rightAxis('precip-axis',Y(1283),axisY,[50,0],[40,30,20,10],yR,v=>String(v),'start',X(L.x1+62));
  D.precip.forEach((v,i)=>{
    if(v===null) return;
    const y0=yR(0), y1=Math.min(yR(v),y0-2);
    add(g,'rect','precip-bar-day-'+i,{x:xs(i),y:y1,width:xs(i+1)-xs(i),height:y0-y1,fill:'#0a3cff'});
  });
  vtitle('precip-axis-title-1',L.x1+205,1340,90,'daily');
  vtitle('precip-axis-title-2',L.x1+152,1342,90,'precipitation (mm)');

  add(g,'line','x-axis-line',{x1:XL,x2:XR,y1:axisY,y2:axisY,stroke:'#000','stroke-width':2});
  add(g,'line','x-axis-start-tick',{x1:XL,x2:XL,y1:axisY,y2:axisY+25*SY,stroke:'#000','stroke-width':2});
  xTickDays[pi].forEach(t=>add(g,'line','x-tick',{x1:xs(t),x2:xs(t),y1:axisY,y2:axisY+25*SY,stroke:'#000','stroke-width':2}));
  xTickLabels[pi].forEach(l=>add(g,'text','x-tick-label',{x:xs(l[0]),y:Y(1492),'font-size':FS,'text-anchor':'middle'},l[1]));
  add(g,'text','x-axis-title',{x:(XL+XR)/2,y:Y(1550),'font-size':22,'text-anchor':'middle'},'Date');
});
</script>
</body></html>
